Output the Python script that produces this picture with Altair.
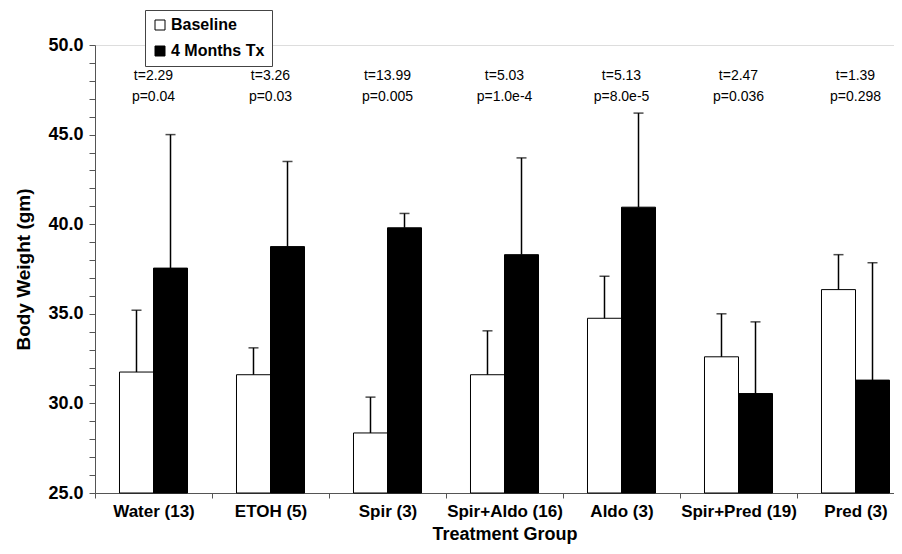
import altair as alt
import pandas as pd

groups = ["Water (13)", "ETOH (5)", "Spir (3)", "Spir+Aldo (16)", "Aldo (3)", "Spir+Pred (19)", "Pred (3)"]
series = ["Baseline", "4 Months Tx"]
baseline_mean = [31.75, 31.6, 28.35, 31.6, 34.75, 32.6, 36.35]
baseline_err = [3.45, 1.5, 2.0, 2.45, 2.35, 2.4, 1.95]
treated_mean = [37.55, 38.75, 39.8, 38.3, 40.95, 30.55, 31.3]
treated_err = [7.45, 4.75, 0.8, 5.4, 5.25, 4.0, 6.55]
t_stats = ["2.29", "3.26", "13.99", "5.03", "5.13", "2.47", "1.39"]
p_vals = ["0.04", "0.03", "0.005", "1.0e-4", "8.0e-5", "0.036", "0.298"]
y_ticks = [25, 26, 27, 28, 29, 30, 31, 32, 33, 34, 35, 36, 37, 38, 39, 40,
           41, 42, 43, 44, 45, 46, 47, 48, 49, 50]

rows = []
for g, m, e in zip(groups, baseline_mean, baseline_err):
    rows.append({"group": g, "series": series[0], "mean": m, "upper": m + e})
for g, m, e in zip(groups, treated_mean, treated_err):
    rows.append({"group": g, "series": series[1], "mean": m, "upper": m + e})
df = pd.DataFrame(rows)

ann = pd.DataFrame({
    "group": groups,
    "t": ["t=" + t for t in t_stats],
    "p": ["p=" + p for p in p_vals],
})

FONT = "Liberation Sans"

x_axis = alt.Axis(
    title="Treatment Group", labelAngle=0, labelFont=FONT, labelFontSize=17,
    labelFontWeight="bold", labelColor="black", titleFont=FONT, titleFontSize=18,
    titleFontWeight="bold", titleColor="black", tickBand="extent", tickSize=5,
    domainColor="#555", tickColor="#555", labelPadding=5, titlePadding=6,
)
x_scale = alt.Scale(range=[0, 819], paddingInner=0, paddingOuter=0)


def xenc():
    return alt.X("group:N", sort=groups, scale=x_scale, axis=x_axis)


def xoenc():
    return alt.XOffset("series:N", sort=series,
                       scale=alt.Scale(paddingInner=0, paddingOuter=0.72))


y_scale = alt.Scale(domain=[25, 50], nice=False, zero=False)
y_axis = alt.Axis(
    title="Body Weight (gm)", values=y_ticks,
    labelExpr="(round(datum.value) % 5 == 0) ? format(datum.value, '.1f') : ''",
    labelFont=FONT, labelFontSize=18, labelFontWeight="bold", labelColor="black",
    labelOverlap=False, labelBound=False, labelFlush=False,
    tickSize=6, tickColor="#555", domainColor="#555",
    titleFont=FONT, titleFontSize=19, titleFontWeight="bold", titleColor="black",
    titlePadding=14, labelPadding=6, grid=False,
)


def yenc(field):
    return alt.Y(field, scale=y_scale, axis=y_axis, title="Body Weight (gm)")


base = alt.Chart(df)

bars = base.mark_bar(stroke="black", strokeWidth=1).encode(
    x=xenc(),
    xOffset=xoenc(),
    y=yenc("mean:Q"),
    y2=alt.datum(25),
    fill=alt.Fill(
        "series:N", sort=series,
        scale=alt.Scale(domain=series, range=["white", "black"]),
        legend=alt.Legend(
            title=None, orient="none", legendX=50, legendY=-35,
            strokeColor="#444", fillColor="white", padding=7,
            symbolType="square", symbolSize=100, symbolStrokeColor="black",
            symbolStrokeWidth=1, labelFont=FONT, labelFontSize=16,
            labelFontWeight="bold", labelColor="black", rowPadding=10,
            labelOffset=3,
        ),
    ),
)

rules = base.mark_rule(color="black", strokeWidth=1.5).encode(
    x=xenc(),
    xOffset=xoenc(),
    y=yenc("mean:Q"),
    y2="upper:Q",
)

caps = base.mark_tick(color="black", thickness=1.5, size=10, orient="horizontal").encode(
    x=xenc(),
    xOffset=xoenc(),
    y=yenc("upper:Q"),
)

tann = alt.Chart(ann).mark_text(font=FONT, fontSize=14, color="black", baseline="middle").encode(
    x=xenc(),
    y=alt.value(31),
    text="t:N",
)
pann = alt.Chart(ann).mark_text(font=FONT, fontSize=14, color="black", baseline="middle").encode(
    x=xenc(),
    y=alt.value(52),
    text="p:N",
)

chart = alt.layer(bars, rules, caps, tann, pann).properties(
    width=799, height=448,
    autosize=alt.AutoSizeParams(type="none"),
    padding={"left": 87, "top": 37, "right": 0, "bottom": 53},
).configure_view(stroke=None).configure(font=FONT, background="white")

chart.save("out.html", embed_options={"renderer": "svg", "actions": False})
